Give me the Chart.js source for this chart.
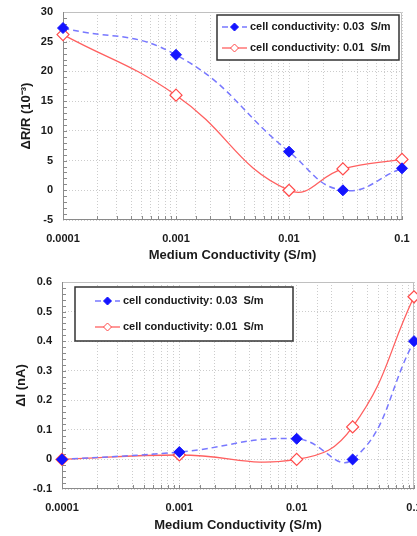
<!DOCTYPE html>
<html>
<head>
<meta charset="utf-8">
<script src="https://cdn.jsdelivr.net/npm/chart.js@4.4.1/dist/chart.umd.min.js"></script>
<style>
  html, body { margin: 0; padding: 0; background: #fff; overflow: hidden; width: 417px; height: 536px; }
  #topChart { position: absolute; left: 0; top: 0; }
  #bottomChart { position: absolute; left: 0; top: 270px; }
</style>
</head>
<body>
<canvas id="topChart" width="417" height="270"></canvas>
<canvas id="bottomChart" width="430" height="266"></canvas>
<script>
// data
const conductivity = [0.0001, 0.001, 0.01, 0.03, 0.1];
const xTickValues = [0.0001, 0.001, 0.01, 0.1];
const xTickLabels = ['0.0001', '0.001', '0.01', '0.1'];
const seriesLabels = ['cell conductivity: 0.03  S/m', 'cell conductivity: 0.01  S/m'];
const dRR_003 = [27.3, 22.8, 6.5, 0, 3.7];
const dRR_001 = [26.2, 16.0, 0, 3.6, 5.2];
const dI_003 = [0, 0.025, 0.07, 0, 0.40];
const dI_001 = [0, 0.015, 0, 0.11, 0.55];

const FONT = '"Liberation Sans", Arial, sans-serif';
const TEXT = '#1a1a1a';
const GRID = '#cccccc';

const toPoints = (ys) => conductivity.map((x, i) => ({x: x, y: ys[i]}));

// plot frame + small inward tick marks
const plotFrame = {
    id: 'plotFrame',
    beforeDatasetsDraw(chart, args, o) {
        const {ctx, chartArea: a, scales: {x, y}} = chart;
        ctx.save();
        ctx.lineWidth = 1;
        ctx.strokeStyle = '#c0c0c0';
        ctx.beginPath();
        ctx.moveTo(a.left, a.top + 0.5); ctx.lineTo(a.right - 0.5, a.top + 0.5); ctx.lineTo(a.right - 0.5, a.bottom);
        ctx.stroke();
        ctx.strokeStyle = '#8a8a8a';
        ctx.beginPath();
        ctx.moveTo(a.left + 0.5, a.top); ctx.lineTo(a.left + 0.5, a.bottom - 0.5); ctx.lineTo(a.right, a.bottom - 0.5);
        const n = Math.round((y.max - y.min) / o.yMinor);
        for (let i = 1; i < n; i++) {
            const py = Math.round(y.getPixelForValue(y.min + i * o.yMinor)) + 0.5;
            ctx.moveTo(a.left, py); ctx.lineTo(a.left + 4, py);
        }
        x.ticks.forEach(t => {
            const px = Math.round(x.getPixelForValue(t.value)) + 0.5;
            ctx.moveTo(px, a.bottom); ctx.lineTo(px, a.bottom - 4);
        });
        ctx.stroke();
        ctx.restore();
    }
};

// boxed legend like the original
const boxLegend = {
    id: 'boxLegend',
    afterDraw(chart, args, o) {
        const {ctx} = chart;
        ctx.save();
        ctx.fillStyle = '#fff';
        ctx.fillRect(o.left, o.top, o.width, o.height);
        ctx.strokeStyle = '#333';
        ctx.lineWidth = 1.5;
        ctx.strokeRect(o.left, o.top, o.width, o.height);
        ctx.font = 'bold 11px ' + FONT;
        ctx.textBaseline = 'middle';
        chart.data.datasets.forEach((ds, i) => {
            const y = o.top + o.rowTop + i * o.rowGap;
            const x0 = o.left + o.lineStart;
            ctx.strokeStyle = ds.borderColor;
            ctx.lineWidth = ds.borderWidth;
            ctx.setLineDash(ds.borderDash || []);
            ctx.beginPath(); ctx.moveTo(x0, y); ctx.lineTo(x0 + o.lineLen, y); ctx.stroke();
            ctx.setLineDash([]);
            const cx = x0 + o.lineLen / 2, r = 4;
            ctx.beginPath();
            ctx.moveTo(cx - r, y); ctx.lineTo(cx, y - r); ctx.lineTo(cx + r, y); ctx.lineTo(cx, y + r);
            ctx.closePath();
            ctx.fillStyle = ds.pointBackgroundColor; ctx.fill();
            ctx.strokeStyle = ds.pointBorderColor; ctx.lineWidth = 1; ctx.stroke();
            ctx.fillStyle = TEXT;
            ctx.fillText(ds.label, x0 + o.lineLen + 3, y);
        });
        ctx.restore();
    }
};

function makeChart(id, s) {
    return new Chart(document.getElementById(id), {
        type: 'line',
        data: {
            datasets: [{
                label: seriesLabels[0],
                data: toPoints(s.blue),
                borderColor: '#7878ff',
                borderWidth: 1.5,
                borderDash: [6, 4],
                tension: 0.45,
                pointStyle: 'rectRot',
                pointRadius: 5.5,
                pointBackgroundColor: '#1414ff',
                pointBorderColor: '#1414ff',
                pointBorderWidth: 1,
                clip: false
            }, {
                label: seriesLabels[1],
                data: toPoints(s.red),
                borderColor: '#ff6060',
                borderWidth: 1.3,
                tension: 0.45,
                pointStyle: 'rectRot',
                pointRadius: 6,
                pointBackgroundColor: '#ffffff',
                pointBorderColor: '#ff4a4a',
                pointBorderWidth: 1.2,
                clip: false
            }]
        },
        options: {
            responsive: false,
            animation: false,
            devicePixelRatio: 1,
            layout: { padding: s.padding },
            plugins: {
                legend: { display: false },
                tooltip: { enabled: false },
                plotFrame: { yMinor: s.yMinor },
                boxLegend: s.legend
            },
            scales: {
                x: {
                    type: 'logarithmic',
                    min: 0.0001,
                    max: 0.1,
                    grid: { color: GRID, lineWidth: 1, drawTicks: false },
                    border: { display: false, dash: [1, 2] },
                    ticks: {
                        autoSkip: false,
                        maxRotation: 0,
                        padding: 12,
                        color: TEXT,
                        font: { family: FONT, size: 11, weight: 'bold' },
                        callback: function(v) {
                            const i = xTickValues.findIndex(t => Math.abs(t - v) / t < 1e-6);
                            return i >= 0 ? xTickLabels[i] : '';
                        }
                    },
                    title: {
                        display: true,
                        text: 'Medium Conductivity (S/m)',
                        color: TEXT,
                        padding: 0,
                        font: { family: FONT, size: 13, weight: 'bold' }
                    },
                    afterFit: function(sc) { sc.height = s.xHeight; sc.paddingLeft = 0; sc.paddingRight = 0; }
                },
                y: {
                    min: s.yMin,
                    max: s.yMax,
                    grid: { color: GRID, lineWidth: 1, drawTicks: false },
                    border: { display: false, dash: [1, 2] },
                    ticks: {
                        stepSize: s.yStep,
                        padding: 10,
                        color: TEXT,
                        font: { family: FONT, size: 11, weight: 'bold' },
                        callback: (v) => String(Math.round(v * 100) / 100 || 0)
                    },
                    title: {
                        display: true,
                        text: s.yTitle,
                        color: TEXT,
                        padding: { top: s.yTitlePad, bottom: 0 },
                        font: { family: FONT, size: 13, weight: 'bold' }
                    },
                    afterFit: function(sc) { sc.width = s.yWidth; sc.paddingTop = 0; sc.paddingBottom = 0; }
                }
            }
        },
        plugins: [plotFrame, boxLegend]
    });
}

makeChart('topChart', {
    blue: dRR_003, red: dRR_001,
    yMin: -5, yMax: 30, yStep: 5, yMinor: 1,
    yTitle: 'ΔR/R (10⁻³)', yTitlePad: 19,
    yWidth: 63, xHeight: 43,
    padding: { left: 0, right: 15, top: 12, bottom: 7 },
    legend: { left: 217, top: 15, width: 182, height: 45, rowTop: 12, rowGap: 21, lineStart: 5, lineLen: 25 }
});

makeChart('bottomChart', {
    blue: dI_003, red: dI_001,
    yMin: -0.1, yMax: 0.6, yStep: 0.1, yMinor: 0.02,
    yTitle: 'ΔI (nA)', yTitlePad: 14,
    yWidth: 62, xHeight: 44,
    padding: { left: 0, right: 16, top: 12, bottom: 3 },
    legend: { left: 75, top: 17, width: 218, height: 54, rowTop: 14, rowGap: 26, lineStart: 20, lineLen: 25 }
});
</script>
</body>
</html>
